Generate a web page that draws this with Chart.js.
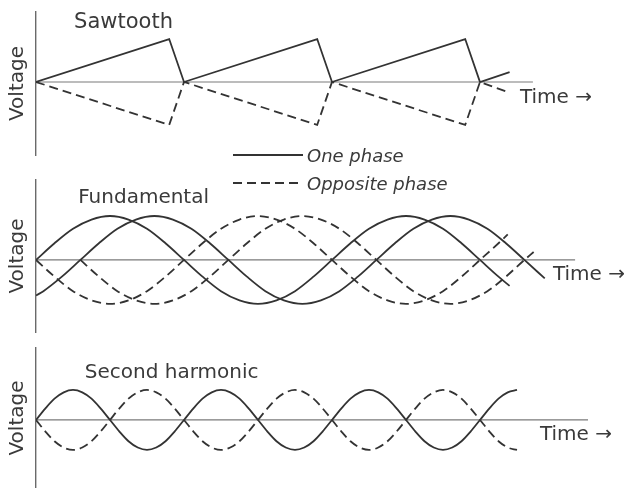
<!DOCTYPE html>
<html>
<head>
<meta charset="utf-8">
<script src="https://cdn.jsdelivr.net/npm/chart.js@4/dist/chart.umd.min.js"></script>
<style>
  body { margin: 0; background: #fff; }
  #wrap { position: relative; width: 630px; height: 488px; }
  #wrap canvas { position: absolute; left: 0; top: 0; }
</style>
</head>
<body>
<div id="wrap">
  <canvas id="sawChart" width="630" height="488"></canvas>
  <canvas id="fundChart" width="630" height="488"></canvas>
  <canvas id="harmChart" width="630" height="488"></canvas>
</div>
<script>
// time in units of 1/8 of the fundamental period
let sawT = [0, 3.6, 4, 7.6, 8, 11.6, 12, 12.8];
let sawV = [0, 1, 0, 1, 0, 1, 0, 0.23];
let sawOppV = [0, -1, 0, -1, 0, -1, 0, -0.25];

let fundT1 = [0, 0.5, 1, 1.5, 2, 2.5, 3, 3.5, 4, 4.5, 5, 5.5, 6, 6.5, 7, 7.5, 8, 8.5, 9, 9.5, 10, 10.5, 11, 11.5, 12, 12.5, 12.8];
let fundV1 = [0, 0.38, 0.71, 0.92, 1, 0.92, 0.71, 0.38, 0, -0.38, -0.71, -0.92, -1, -0.92, -0.71, -0.38, 0, 0.38, 0.71, 0.92, 1, 0.92, 0.71, 0.38, 0, -0.38, -0.59];
let fundT2 = [0, 0.2, 0.7, 1.2, 1.7, 2.2, 2.7, 3.2, 3.7, 4.2, 4.7, 5.2, 5.7, 6.2, 6.7, 7.2, 7.7, 8.2, 8.7, 9.2, 9.7, 10.2, 10.7, 11.2, 11.7, 12.2, 12.7, 13.2, 13.75];
let fundV2 = [-0.81, -0.71, -0.38, 0, 0.38, 0.71, 0.92, 1, 0.92, 0.71, 0.38, 0, -0.38, -0.71, -0.92, -1, -0.92, -0.71, -0.38, 0, 0.38, 0.71, 0.92, 1, 0.92, 0.71, 0.38, 0, -0.42];
let fundOppT1 = [0, 0.5, 1, 1.5, 2, 2.5, 3, 3.5, 4, 4.5, 5, 5.5, 6, 6.5, 7, 7.5, 8, 8.5, 9, 9.5, 10, 10.5, 11, 11.5, 12, 12.5, 12.75];
let fundOppV1 = [0, -0.38, -0.71, -0.92, -1, -0.92, -0.71, -0.38, 0, 0.38, 0.71, 0.92, 1, 0.92, 0.71, 0.38, 0, -0.38, -0.71, -0.92, -1, -0.92, -0.71, -0.38, 0, 0.38, 0.58];
let fundOppT2 = [1.2, 1.7, 2.2, 2.7, 3.2, 3.7, 4.2, 4.7, 5.2, 5.7, 6.2, 6.7, 7.2, 7.7, 8.2, 8.7, 9.2, 9.7, 10.2, 10.7, 11.2, 11.7, 12.2, 12.7, 13.2, 13.45];
let fundOppV2 = [0, -0.38, -0.71, -0.92, -1, -0.92, -0.71, -0.38, 0, 0.38, 0.71, 0.92, 1, 0.92, 0.71, 0.38, 0, -0.38, -0.71, -0.92, -1, -0.92, -0.71, -0.38, 0, 0.18];

let harmT = [0, 0.25, 0.5, 0.75, 1, 1.25, 1.5, 1.75, 2, 2.25, 2.5, 2.75, 3, 3.25, 3.5, 3.75,
    4, 4.25, 4.5, 4.75, 5, 5.25, 5.5, 5.75, 6, 6.25, 6.5, 6.75, 7, 7.25, 7.5, 7.75,
    8, 8.25, 8.5, 8.75, 9, 9.25, 9.5, 9.75, 10, 10.25, 10.5, 10.75, 11, 11.25, 11.5, 11.75,
    12, 12.25, 12.5, 12.75, 13];
let harmV = [0, 0.38, 0.71, 0.92, 1, 0.92, 0.71, 0.38, 0, -0.38, -0.71, -0.92, -1, -0.92, -0.71, -0.38,
    0, 0.38, 0.71, 0.92, 1, 0.92, 0.71, 0.38, 0, -0.38, -0.71, -0.92, -1, -0.92, -0.71, -0.38,
    0, 0.38, 0.71, 0.92, 1, 0.92, 0.71, 0.38, 0, -0.38, -0.71, -0.92, -1, -0.92, -0.71, -0.38,
    0, 0.38, 0.71, 0.92, 1];
let harmOppV = [0, -0.38, -0.71, -0.92, -1, -0.92, -0.71, -0.38, 0, 0.38, 0.71, 0.92, 1, 0.92, 0.71, 0.38,
    0, -0.38, -0.71, -0.92, -1, -0.92, -0.71, -0.38, 0, 0.38, 0.71, 0.92, 1, 0.92, 0.71, 0.38,
    0, -0.38, -0.71, -0.92, -1, -0.92, -0.71, -0.38, 0, 0.38, 0.71, 0.92, 1, 0.92, 0.71, 0.38,
    0, -0.38, -0.71, -0.92, -1];

// time axis lines (start, end) per panel
let sawAxisT = [0, 13.43];
let fundAxisT = [0, 14.57];
let harmAxisT = [0, 14.92];

let legendLabels = ['One phase', 'Opposite phase'];

const ink = '#333333';
const axisInk = '#7a7a7a';
const dash = [9, 5];

function pts(ts, vs) {
    return ts.map(function (t, i) { return { x: t, y: vs[i] }; });
}

function curve(ts, vs, dashed, straight) {
    return {
        data: pts(ts, vs),
        borderColor: ink,
        borderWidth: 1.8,
        borderDash: dashed ? dash : [],
        borderJoinStyle: 'miter',
        pointRadius: 0,
        tension: 0,
        cubicInterpolationMode: straight ? 'default' : 'monotone',
        fill: false,
        order: 1
    };
}

function axisLine(ts) {
    return {
        data: pts(ts, [0, 0]),
        borderColor: axisInk,
        borderWidth: 1.2,
        pointRadius: 0,
        tension: 0,
        fill: false,
        order: 10
    };
}

const panelText = {
    id: 'panelText',
    afterDraw(chart, args, opts) {
        const ctx = chart.ctx;
        const xs = chart.scales.x, ys = chart.scales.y;
        ctx.save();
        ctx.fillStyle = '#3a3a3a';
        ctx.textBaseline = 'alphabetic';
        ctx.textAlign = 'left';
        (opts.items || []).forEach(function (it) {
            ctx.font = it.font;
            ctx.fillText(it.text, xs.getPixelForValue(it.x), ys.getPixelForValue(it.y));
        });
        // legend between first two panels
        if (opts.legend) {
            const lg = opts.legend;
            legendLabels.forEach(function (label, i) {
                const y = lg.top + i * lg.gap;
                ctx.strokeStyle = ink;
                ctx.lineWidth = 1.8;
                ctx.setLineDash(i === 0 ? [] : dash);
                ctx.beginPath();
                ctx.moveTo(lg.left, y);
                ctx.lineTo(lg.left + lg.len, y);
                ctx.stroke();
                ctx.setLineDash([]);
                ctx.font = 'italic 18px "DejaVu Sans"';
                ctx.fillText(label, lg.left + lg.len + 4, y + 7);
            });
        }
        ctx.restore();
    }
};

function makePanel(id, datasets, padTop, padBottom, yMin, yMax, items, legend) {
    const ctx = document.getElementById(id).getContext('2d');
    return new Chart(ctx, {
        type: 'line',
        data: { datasets: datasets },
        plugins: [panelText],
        options: {
            responsive: false,
            animation: false,
            events: [],
            layout: { padding: { left: 0, right: 2, top: padTop, bottom: padBottom } },
            plugins: {
                legend: { display: false },
                tooltip: { enabled: false },
                panelText: { items: items, legend: legend }
            },
            scales: {
                x: { type: 'linear', min: 0, max: 16, display: false },
                y: {
                    type: 'linear', min: yMin, max: yMax,
                    grid: { display: false },
                    border: { display: true, color: '#6a6a6a', width: 1.4 },
                    ticks: { display: false },
                    title: {
                        display: true, text: 'Voltage', color: '#3a3a3a',
                        font: { family: 'DejaVu Sans', size: 20 },
                        padding: { top: 6, bottom: 0 }
                    },
                    afterFit: function (scale) { scale.width = 36; }
                }
            }
        }
    });
}

const titleFont = '20px "DejaVu Sans"';

makePanel('sawChart', [
    curve(sawT, sawV, false, true),
    curve(sawT, sawOppV, true, true),
    axisLine(sawAxisT)
], 12, 333, -1.70, 1.63, [
    { text: 'Sawtooth', x: 1.03, y: 1.26, font: '21px "DejaVu Sans"' },
    { text: 'Time \u2192', x: 13.08, y: -0.49, font: titleFont }
], { left: 233, top: 155, gap: 28, len: 70 });

makePanel('fundChart', [
    curve(fundT1, fundV1, false),
    curve(fundT2, fundV2, false),
    curve(fundOppT1, fundOppV1, true),
    curve(fundOppT2, fundOppV2, true),
    axisLine(fundAxisT)
], 180, 156, -1.64, 1.82, [
    { text: 'Fundamental', x: 1.14, y: 1.30, font: titleFont },
    { text: 'Time \u2192', x: 13.97, y: -0.45, font: titleFont }
], null);

makePanel('harmChart', [
    curve(harmT, harmV, false),
    curve(harmT, harmOppV, true),
    axisLine(harmAxisT)
], 348, 0, -2.27, 2.4, [
    { text: 'Second harmonic', x: 1.32, y: 1.4, font: titleFont },
    { text: 'Time \u2192', x: 13.62, y: -0.67, font: titleFont }
], null);
</script>
</body>
</html>
